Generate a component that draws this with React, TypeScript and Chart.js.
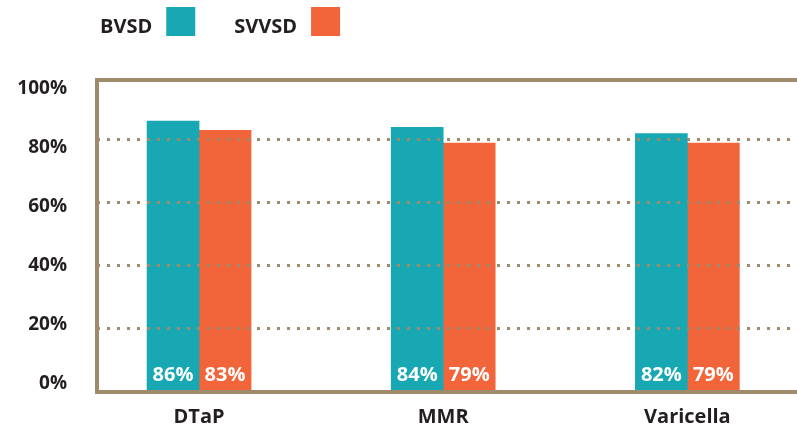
import React, { useEffect, useRef } from 'react';
import { Chart, registerables } from 'chart.js';

Chart.register(...registerables);

const categories = ['DTaP', 'MMR', 'Varicella'];
const seriesNames = ['BVSD', 'SVVSD'];
const bvsdValues = [86, 84, 82];
const svvsdValues = [83, 79, 79];
const yTickValues = [0, 20, 40, 60, 80, 100];

const TEAL = '#17a8b3';
const ORANGE = '#f2653a';
const BROWN = '#9f8a6b';
const TEXT = '#231f20';
const FONT = '"Open Sans", "DejaVu Sans", sans-serif';

const pct = (v: number) => `${v}%`;

const framePlugin = {
  id: 'frameTop',
  afterDraw(chart: any) {
    const { ctx, chartArea } = chart;
    ctx.save();
    ctx.strokeStyle = BROWN;
    ctx.lineWidth = 4;
    ctx.beginPath();
    ctx.moveTo(chartArea.left - 2, chartArea.top);
    ctx.lineTo(chartArea.right, chartArea.top);
    ctx.stroke();
    ctx.restore();
  },
};

const valueLabelPlugin = {
  id: 'valueLabels',
  afterDatasetsDraw(chart: any) {
    const { ctx } = chart;
    ctx.save();
    ctx.fillStyle = '#ffffff';
    ctx.font = `bold 20px ${FONT}`;
    ctx.textAlign = 'center';
    ctx.textBaseline = 'alphabetic';
    chart.data.datasets.forEach((ds: any, di: number) => {
      const meta = chart.getDatasetMeta(di);
      meta.data.forEach((bar: any, i: number) => {
        const v = ds.data[i].y;
        ctx.fillText(pct(v), bar.x, bar.base - 10);
      });
    });
    ctx.restore();
  },
};

const legendPlugin = {
  id: 'textFirstLegend',
  afterDraw(chart: any) {
    const { ctx } = chart;
    ctx.save();
    ctx.font = `bold 20px ${FONT}`;
    ctx.textBaseline = 'alphabetic';
    ctx.textAlign = 'left';
    let x = 100;
    chart.data.datasets.forEach((ds: any) => {
      ctx.fillStyle = TEXT;
      ctx.fillText(ds.label, x, 33);
      x += ctx.measureText(ds.label).width + 14;
      ctx.fillStyle = ds.backgroundColor;
      ctx.fillRect(x, 7, 29, 29);
      x += 29 + 39;
    });
    ctx.restore();
  },
};

export default function App() {
  const canvasRef = useRef<HTMLCanvasElement | null>(null);

  useEffect(() => {
    if (!canvasRef.current) return;
    const chart = new Chart(canvasRef.current, {
      type: 'bar',
      data: {
        datasets: [
          {
            label: seriesNames[0],
            data: bvsdValues.map((v, i) => ({ x: i, y: v })),
            backgroundColor: TEAL,
            borderWidth: 0,
            barThickness: 52,
          },
          {
            label: seriesNames[1],
            data: svvsdValues.map((v, i) => ({ x: i, y: v })),
            backgroundColor: ORANGE,
            borderWidth: 0,
            barThickness: 52,
          },
        ],
      },
      options: {
        responsive: false,
        animation: false,
        events: [],
        layout: { padding: { top: 80, left: 0, right: 0, bottom: 0 } },
        plugins: {
          legend: { display: false },
          tooltip: { enabled: false },
          title: { display: false },
        },
        scales: {
          x: {
            type: 'linear',
            position: 'bottom',
            offset: false,
            min: -0.418,
            max: 2.449,
            afterBuildTicks: (scale: any) => {
              scale.ticks = categories.map((_, i) => ({ value: i }));
            },
            afterFit: (scale: any) => {
              scale.height = 37;
              scale.paddingLeft = 0;
              scale.paddingRight = 0;
            },
            ticks: {
              autoSkip: false,
              maxRotation: 0,
              padding: 13,
              color: TEXT,
              font: { family: FONT, size: 20, weight: 'bold' },
              callback: (v: any) => categories[v] ?? '',
            },
            grid: { display: false, drawTicks: false, offset: false },
            border: { display: true, color: BROWN, width: 4, z: 1 },
          },
          y: {
            type: 'linear',
            position: 'left',
            min: 0,
            max: 99,
            afterBuildTicks: (scale: any) => {
              scale.ticks = yTickValues.filter((v) => v < 100).map((v) => ({ value: v }));
            },
            afterFit: (scale: any) => {
              scale.width = 0;
              scale.paddingTop = 0;
              scale.paddingBottom = 0;
            },
            ticks: { display: false },
            grid: {
              display: true,
              drawTicks: false,
              z: 1,
              lineWidth: 3,
              color: (c: any) => (c.tick && c.tick.value === 0 ? 'rgba(0,0,0,0)' : BROWN),
            },
            border: { display: false, dash: [3, 7], dashOffset: 0 },
          },
          y2: {
            type: 'linear',
            position: 'left',
            min: -2.95,
            max: 102.9,
            afterBuildTicks: (scale: any) => {
              scale.ticks = yTickValues.map((v) => ({ value: v }));
            },
            afterFit: (scale: any) => {
              scale.width = 97;
              scale.paddingTop = 0;
              scale.paddingBottom = 0;
            },
            ticks: {
              padding: 30,
              color: TEXT,
              font: { family: FONT, size: 19, weight: 'bold' },
              callback: (v: any) => pct(v),
            },
            grid: { display: false, drawTicks: false },
            border: { display: true, color: BROWN, width: 4 },
          },
        },
      } as any,
      plugins: [valueLabelPlugin, framePlugin, legendPlugin],
    });
    return () => chart.destroy();
  }, []);

  return (
    <div style={{ position: 'fixed', left: 0, top: 0, width: 797, height: 429, background: '#ffffff' }}>
      <canvas ref={canvasRef} width={797} height={429} style={{ display: 'block' }} />
    </div>
  );
}
